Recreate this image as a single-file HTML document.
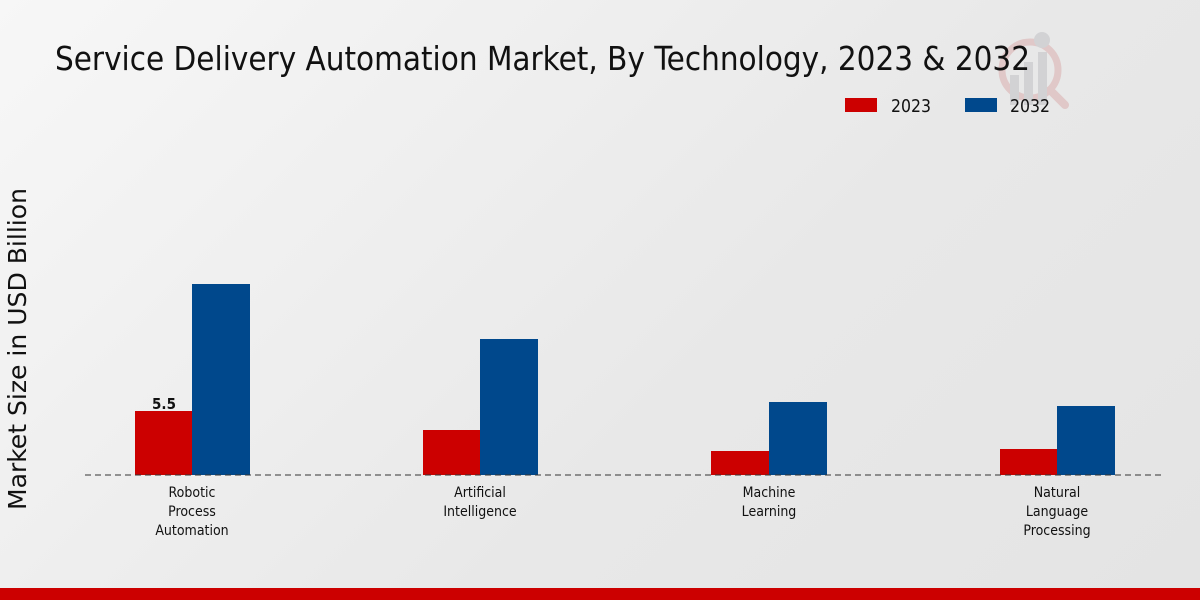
<!DOCTYPE html>
<html><head><meta charset="utf-8"><style>
html,body{margin:0;padding:0}
body{width:1200px;height:600px;overflow:hidden;background:linear-gradient(135deg,#f7f7f7 0%,#e8e8e8 60%,#e4e4e4 100%);font-family:"DejaVu Sans Condensed","DejaVu Sans","Liberation Sans",sans-serif;position:relative}
</style></head><body>
<svg width="1200" height="600" style="position:absolute;left:0;top:0" font-family="DejaVu Sans Condensed, DejaVu Sans, Liberation Sans, sans-serif">
  <g opacity="0.3">
    <circle cx="1030" cy="70" r="28" fill="none" stroke="#d08080" stroke-width="7"/>
    <line x1="1050" y1="90" x2="1065" y2="105" stroke="#d08080" stroke-width="8" stroke-linecap="round"/>
    <rect x="1010" y="75" width="9" height="30" fill="#a0a0a8"/>
    <rect x="1024" y="62" width="9" height="43" fill="#a0a0a8"/>
    <rect x="1038" y="52" width="9" height="53" fill="#a0a0a8"/>
    <circle cx="1042" cy="40" r="8" fill="#a0a0a8"/>
  </g>
  <text x="55" y="70" font-size="33" textLength="975" lengthAdjust="spacingAndGlyphs" fill="#111">Service Delivery Automation Market, By Technology, 2023 &amp; 2032</text>
  <rect x="845" y="98" width="32" height="14" fill="#cc0000"/>
  <text x="891" y="112" font-size="18" textLength="40" lengthAdjust="spacingAndGlyphs" fill="#111">2023</text>
  <rect x="965" y="98" width="32" height="14" fill="#00488c"/>
  <text x="1010" y="112" font-size="18" textLength="40" lengthAdjust="spacingAndGlyphs" fill="#111">2032</text>
  <text transform="translate(26,349) rotate(-90)" text-anchor="middle" font-size="25" textLength="322" lengthAdjust="spacingAndGlyphs" fill="#111">Market Size in USD Billion</text>
  <rect x="135" y="411" width="57" height="64" fill="#cc0000"/>
  <rect x="192" y="284" width="58" height="191" fill="#00488c"/>
  <rect x="423" y="430" width="57" height="45" fill="#cc0000"/>
  <rect x="480" y="339" width="58" height="136" fill="#00488c"/>
  <rect x="711" y="451" width="58" height="24" fill="#cc0000"/>
  <rect x="769" y="402" width="58" height="73" fill="#00488c"/>
  <rect x="1000" y="449" width="57" height="26" fill="#cc0000"/>
  <rect x="1057" y="406" width="58" height="69" fill="#00488c"/>
  <line x1="85" y1="475" x2="1165" y2="475" stroke="#333" stroke-width="1" stroke-dasharray="6,4"/>
  <text x="164" y="409" text-anchor="middle" font-size="15" font-weight="bold" fill="#111">5.5</text>
  <g font-size="14" fill="#111" text-anchor="middle">
    <text x="192" y="497">Robotic</text><text x="192" y="516">Process</text><text x="192" y="535">Automation</text>
    <text x="480" y="497">Artificial</text><text x="480" y="516">Intelligence</text>
    <text x="769" y="497">Machine</text><text x="769" y="516">Learning</text>
    <text x="1057" y="497">Natural</text><text x="1057" y="516">Language</text><text x="1057" y="535">Processing</text>
  </g>
  <rect x="0" y="588" width="1200" height="12" fill="#cc0000"/>
</svg>
</body></html>
